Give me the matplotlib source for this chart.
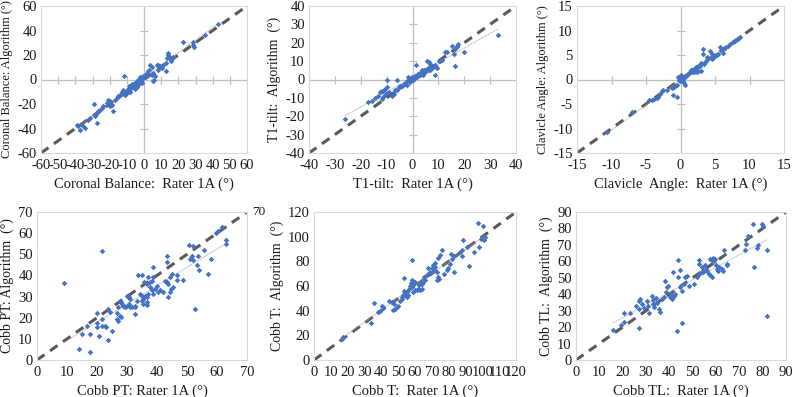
import numpy as np
import matplotlib
matplotlib.use("Agg")
import matplotlib.pyplot as plt

plt.rcParams['font.family'] = ['Liberation Serif', 'DejaVu Serif']

# ---------------- data ----------------
cb_x = [43, 35.5, 23, 28.7, 28.3, 29.1, 14.2, 13.8, 15.1, 13.2, 15.5, 12.6, 11.3, 9.3, 8.3, 7.4, 10.3, 12.8,
        3.5, 4.5, 3.1, 2.5, 5.4, 4.5, 6.4, 5.8, 5.0, 0.6, -0.4, -2.3, -1.4, -3.3, -4.3, -5.2, -6.2, -7.2,
        -11.7, -8.5, -7.8, -9.2, -10, -6.5, -5.8, -4.3, -5.2, -12, -13, -14, -15, -15.9, -16.9, -12, -11.1,
        -10.1, -20.8, -19.8, -21.7, -18.8, -19.8, -17.9, -29.1, -23.7, -24.7, -25.6, -26.6, -27.6, -28.5,
        -31.5, -32.4, -27.6, -39.2, -38.3, -35.3, -34.4, -37.3, 1.5, 2, -2, -1, 8, 16, 17, -3, -8]
cb_y = [45.6, 36.6, 30.6, 30.3, 27.9, 26.8, 21.6, 19.7, 18.1, 17.6, 15.4, 13.5, 12.1, 10.7, 12.1, 11.6, 9.4, 6.7,
        12.1, 9.9, 8.0, 6.7, 5.4, 4.0, 2.6, -0.1, -1.5, 4.0, 2.6, 1.8, 0.7, -0.1, -1.5, -2.9, -4.2, -3.7,
        2.6, -5.5, -7, -7.8, -9, -6, -3.5, -6.5, -8, -8.3, -10.2, -12.4, -13.7, -15.1, -16.5, -11.1, -12.9,
        -11, -16.5, -17.8, -19.2, -20.5, -21.9, -25.4, -20, -21.9, -23.3, -24.6, -26, -27.3, -30,
        -31.4, -32.8, -35.5, -36.9, -38.2, -38.2, -39.6, -40.9, 2.5, 5, -1, -3, 8, 16, 18, -4, -10]

t1_x = [33, 19.8, 17.6, 17.2, 15.3, 16.3, 15.9, 16.5, 13.3, 12.7, 11.4, 10.7, 10.1, 8.8, 8.1, 7.5, 6.8, 6.2,
        5.6, 8.8, 6.2, 6.8, 4.9, 4.3, 3.6, 2.9, 2.3, 1.7, 1.0, 1.4, -0.3, -0.9, -1.6, -0.9, 0.4, -6, -2.8,
        -3.5, -4.1, -4.8, -5.4, -6.1, -6.7, -10, -10.6, -11.3, -11.9, -12.5, -10, -10.6, -11.3, -11.9, -13.2,
        -14.5, -15.8, -17.1, -26.1, 2, 3, 4, 5, 1, 0, -1, -2, 3.5, 4.5, 6, 9, 9.5, -8, -9, -7, -3, -2, 0.5, -9.7]
t1_y = [24, 14.8, 19.5, 18, 18, 16.5, 13.8, 7.5, 15, 14.8, 10.8, 10.2, 9.9, 8, 7.1, 6.2, 8.4, 9.3,
        9.9, 2.6, 6.2, 5.3, 4.4, 4.9, 4.0, 2.2, 3.1, 1.3, 1.8, 8, 1.6, -0.2, 1.6, -1.5, 0.5, 0, -2,
        -2.9, -3.8, -3.3, -4.2, -5.5, -5.5, -4.2, -5.3, -6.2, -6, -6.6, -7.5, -8.4, -9.3, -10.5, -8.8,
        -10.2, -11.5, -12, -21.7, 3, 3.5, 2.5, 4, 2, -0.5, 0.5, -1, 5, 4, 5, 7, 6, -9, -7, -8, -2.5, -3, 1, -0.3]

cl_x = [8.6, 8.4, 7.9, 7.6, 7.2, 6.9, 6.5, 5.7, 6.0, 6.1, 5.5, 5.0, 4.3, 4.5, 4.0, 3.7, 3.2, 3.3, 3.6, 3.0,
        2.8, 2.6, 2.4, 2.1, 1.9, 1.6, 1.4, 1.1, 0.9, 0.6, 0.4, 0.2, 2.1, 1.9, 2.4, 2.6, 2.9, 0.4, 0.5, 0.7,
        0.0, -0.1, -0.5, -0.8, -1.0, -1.3, -1.1, -0.5, -2.0, -2.5, -2.7, -2.9, -3.2, -3.4, -3.9, -4.1, -4.5,
        -7.0, -10.7, 1.2, 1.5, 0.8, 3.9, 4.8, 5.3, 2.2, 1.7, 0.3, -0.3, -0.2, 0.1, 3.4, 4.6]
cl_y = [8.6, 8.2, 7.9, 7.6, 7.2, 6.9, 6.5, 6.7, 6.0, 5.5, 5.2, 5.0, 5.8, 5.2, 4.4, 3.8, 6.2, 5.2, 3.5, 3.3,
        2.8, 2.7, 2.4, 1.8, 1.6, 1.6, 1.6, 1.2, 0.9, 0.6, 0.4, 0.1, 2.2, 2.1, 1.6, 1.8, 1.7, -0.4, -0.7, -1.1,
        1.0, -0.3, -1.1, -1.4, -1.6, -1.8, -3.1, -3.5, -2.1, -2.2, -2.4, -2.9, -3.5, -3.7, -4.0, -4.1, -4.2,
        -6.7, -10.8, 1.4, 2.0, 0.7, 4.6, 4.5, 5.0, 2.5, 1.9, 0.2, 0.6, 0.0, 0.4, 3.1, 4.2]

pt_x = [9, 21.8, 14, 17.7, 15, 17.7, 20.8, 23.8, 24.9, 16.6, 19.9, 19.9, 21.6, 22.5, 23, 19.9, 21.6, 24.4,
        23.8, 26.6, 27.1, 26.8, 27.1, 27.7, 27.9, 27.7, 27.9, 28.2, 28.8, 29.3, 29.9, 30.5, 31, 29.9, 30.5,
        31, 32.7, 32.7, 31.6, 33.2, 32.7, 33.8, 34.9, 35.7, 37.1, 36.5, 37.7, 38.2, 38.8, 38.8, 34.3, 34.9,
        35.4, 36, 36.5, 37.1, 36.5, 34.9, 35.4, 36.5, 37.7, 38.2, 38.8, 39.3, 39.9, 40.4, 41, 42.1, 42.6,
        43.2, 43.7, 44.3, 43.7, 44.5, 45.4, 43.2, 43.2, 44.3, 44.9, 46.7, 46.7, 48.7, 50.7, 52, 51.8, 52,
        53.2, 54, 55.6, 57, 52.6, 53.7, 50.9, 57.9, 59.8, 60.3, 61.5, 63.1, 63.1]
pt_y = [36.3, 51.5, 5.2, 3.6, 12.3, 12.3, 11.5, 9.6, 13.9, 16, 15.8, 17.4, 16.3, 16, 15.8, 22.1, 19.4, 22.6,
        23.9, 22.1, 25, 19.4, 18.3, 21, 20.2, 28.1, 27.3, 26.5, 25.7, 25, 25.7, 26.5, 25, 30.5, 29.7,
        28.9, 25.7, 25, 25, 28.1, 21.8, 40, 40.3, 37, 39.2, 36, 36.8, 37.6, 39.2, 44.2, 31.3, 30.5,
        28.9, 30.5, 29.7, 31.3, 27.3, 27.8, 26.5, 26.2, 34.4, 32.9, 31.3, 33.6, 34.8, 32.1, 33.2, 32.1, 37.6,
        36.8, 36, 32.1, 29.7, 33.6, 34.4, 49, 46.3, 39.2, 40.8, 40.4, 37.9, 37.9, 54.2, 53.7, 49.4, 47.1,
        44.7, 42.7, 52.1, 40.8, 23.9, 49.4, 47.9, 47.9, 60, 60.8, 62.9, 56.6, 55]

ct_x = [17.3, 16.9, 33.8, 35.8, 38.1, 39.1, 40.5, 41.1, 44.5, 46.1, 47.7, 47.1, 48.1, 49.1, 50.1, 51.1, 52.1,
        53, 52.5, 54, 53.6, 53.6, 55, 56, 55, 56.4, 57, 58, 59, 57.6, 60, 58.4, 58.4, 59, 60, 61, 62, 63.1,
        64, 62.4, 64, 65, 66, 65.6, 67, 68, 67.6, 69, 70.1, 71.1, 72.1, 73.1, 73.7, 74.2, 74.9, 73.9, 71.9,
        70.9, 76.3, 77.5, 78.9, 79.5, 72.9, 80.9, 81.9, 82.9, 81.5, 83.4, 86.8, 87.8, 88.8, 87.8, 90.8, 91.8,
        94.8, 97.8, 97.4, 100.2, 99.4, 100.7, 101.7]
ct_y = [19, 17.1, 29.8, 46.6, 38.7, 39.5, 44.1, 42.8, 48.2, 46.9, 45.5, 40.6, 41.4, 42.8, 44.1, 48.2, 50.9,
        52.3, 49.6, 53.1, 55.8, 66.4, 50.9, 52.3, 55, 57.6, 59.6, 59.3, 61.2, 62.3, 63.1, 64.5, 80.7, 55,
        56.6, 57.1, 57.9, 56.6, 57.9, 60.7, 62, 63.4, 64.7, 67.4, 68.8, 70.1, 74.2, 71.5, 74.2, 72.8, 75.6,
        71.5, 67.4, 66, 85.2, 83, 78.4, 77, 89.4, 70.1, 72.8, 74.2, 64.7, 78, 82.1, 84.7, 86, 71.2, 87.5,
        84.7, 96.9, 88.8, 91.5, 76.3, 87.5, 91.5, 110.9, 109, 98.2, 97.4, 100.1]

tl_x = [15.8, 19.3, 20.4, 20.7, 23, 25.8, 26.8, 27.5, 27.2, 28.2, 29, 27.2, 30.4, 30.7, 31.1, 32.5, 33, 33.2,
        33.5, 34.4, 34.7, 35.4, 36.1, 36.8, 37.5, 38.2, 38.7, 38.9, 39.6, 40.3, 40.6, 41.1, 41.8, 42.5, 41.5,
        43.2, 45.4, 43.9, 44.4, 43.9, 44.7, 45.4, 46.1, 46.8, 47.5, 48.6, 50.4, 51.8, 52.5, 53.2, 52.5, 52.9,
        53.9, 54.4, 54.6, 55.3, 55.8, 56.1, 56.8, 57.5, 58.2, 58.6, 59.6, 59.2, 60, 60.3, 60.8, 57.5, 58.2,
        61.5, 62.5, 63.5, 64.6, 64.9, 62.9, 72.5, 72.9, 73.9, 76, 77.5, 77.9, 76.3, 79.6, 80.3, 82, 82]
tl_y = [18.3, 21.5, 23, 28.4, 28.4, 33.1, 35.8, 37.2, 31.1, 34.1, 31.7, 19.5, 35.8, 33.1, 28.4, 39.2, 36.2,
        34.1, 32.5, 37.8, 34.6, 31.1, 29, 37.2, 38.2, 47.9, 41.2, 44.3, 45.3, 38.2, 40.2, 37.2, 39.2, 40.2,
        53.4, 17.9, 22.3, 61, 54.9, 50.4, 44.3, 41.9, 46.3, 50.4, 50.8, 45.3, 46.3, 50.4, 52, 52.8, 61, 58.5,
        56.5, 54.9, 53.4, 57.5, 55.5, 54.1, 52.4, 61.6, 61, 62.2, 61.6, 60.1, 57.5, 55.5, 54.1, 51.4, 50.4,
        56.5, 55.5, 67, 58.5, 57.5, 54.1, 67, 70.7, 75.2, 82.5, 68.3, 69.7, 56.5, 82.9, 81.3, 67, 27]

panels = [
    dict(x=cb_x, y=cb_y, lim=(-60, 60), xt=10, yt=20, cross=True, yfs=9,
         xl="Coronal Balance:  Rater 1A (°)", yl="Coronal Balance: Algorithm (°)"),
    dict(x=t1_x, y=t1_y, lim=(-40, 40), xt=10, yt=10, cross=True, yfs=10,
         xl="T1-tilt:  Rater 1A (°)", yl="T1-tilt:  Algorithm  (°)"),
    dict(x=cl_x, y=cl_y, lim=(-15, 15), xt=5, yt=5, cross=True, yfs=9,
         xl="Clavicle  Angle:  Rater 1A (°)", yl="Clavicle Angle: Algorithm (°)"),
    dict(x=pt_x, y=pt_y, lim=(0, 70), xt=10, yt=10, cross=False, yfs=10,
         xl="Cobb PT: Rater 1A (°)", yl="Cobb PT: Algorithm  (°)"),
    dict(x=ct_x, y=ct_y, lim=(0, 120), xt=10, yt=20, cross=False, yfs=10,
         xl="Cobb T:  Rater 1A (°)", yl="Cobb T:  Algorithm  (°)"),
    dict(x=tl_x, y=tl_y, lim=(0, 90), xt=10, yt=10, cross=False, yfs=10,
         xl="Cobb TL:  Rater 1A (°)", yl="Cobb TL:  Algorithm  (°)"),
]

# axes rectangles in pixels: left, right, top, bottom
W, H = 794, 397
rects = [(41, 247, 6, 153), (309, 516, 6, 153), (577, 784, 6, 153),
         (37, 247, 212, 360), (314, 516, 212, 360), (576, 786, 212, 360)]

fig = plt.figure(figsize=(W / 100, H / 100), dpi=100)
BLUE = '#4472C4'
FRAME = '#D9D9D9'
TXT = '#1a1a1a'

for p, (l, r, t, b) in zip(panels, rects):
    ax = fig.add_axes([l / W, (H - b) / H, (r - l) / W, (b - t) / H])
    lo, hi = p['lim']
    ax.set_xlim(lo, hi)
    ax.set_ylim(lo, hi)
    xt = np.arange(lo, hi + 0.001, p['xt'])
    yt = np.arange(lo, hi + 0.001, p['yt'])
    ax.set_xticks(xt)
    ax.set_yticks(yt)
    ax.set_xticklabels([f"{v:g}" for v in xt])
    ax.set_yticklabels([f"{v:g}" for v in yt])
    ax.tick_params(length=0, labelsize=10.5, colors=TXT)
    ax.tick_params(axis='x', pad=4)
    ax.tick_params(axis='y', pad=3)
    for s in ax.spines.values():
        s.set_color(FRAME)
        s.set_linewidth(0.8)
    if p['cross']:
        ax.axhline(0, color='#BFBFBF', lw=0.9, zorder=1)
        ax.axvline(0, color='#BFBFBF', lw=0.9, zorder=1)
        xm = xt[(xt != 0) & (xt != lo) & (xt != hi)]
        ym = yt[(yt != 0) & (yt != lo) & (yt != hi)]
        ax.plot(xm, np.zeros_like(xm), ls='none', marker='|', ms=6, mew=0.9, color='#BFBFBF', zorder=1)
        ax.plot(np.zeros_like(ym), ym, ls='none', marker='_', ms=6, mew=0.9, color='#BFBFBF', zorder=1)
    x = np.array(p['x'], float)
    y = np.array(p['y'], float)
    # identity line
    ax.plot([lo, hi], [lo, hi], color='#595959', lw=2.2, ls=(0, (3, 2.2)), zorder=2)
    # linear trend line
    k, c = np.polyfit(x, y, 1)
    xs = np.array([x.min(), x.max()])
    ax.plot(xs, k * xs + c, color='#A6A6A6', lw=0.7, ls=(0, (1, 0.8)), zorder=2)
    ax.scatter(x, y, s=8, marker='D', color=BLUE, linewidths=0, zorder=3)
    ax.set_xlabel(p['xl'], fontsize=10.5, color=TXT, labelpad=4)
    ax.set_ylabel(p['yl'], fontsize=p['yfs'], color=TXT, labelpad=3)
    if p is panels[3]:
        ax.annotate("70", xy=(1, 1), xycoords='axes fraction', xytext=(4, 0),
                    textcoords='offset points', ha='left', va='center', fontsize=9.5, color=TXT)

fig.savefig("out.png", dpi=100)
